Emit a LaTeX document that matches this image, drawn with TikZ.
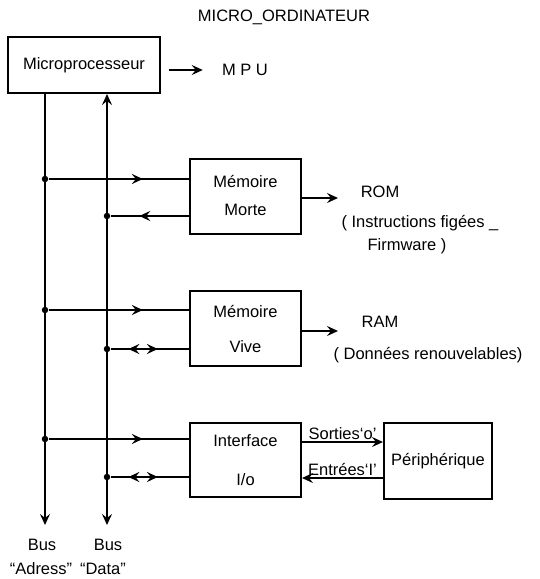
\documentclass[tikz,border=0pt]{standalone}
\usepackage{fontspec}
\setmainfont{Liberation Sans}
\usetikzlibrary{arrows.meta,decorations.markings}

\begin{document}
\begin{tikzpicture}[
  x=1pt,y=-1pt,
  line width=2pt,
  font=\fontsize{16.5}{20}\selectfont,
  >={Stealth[length=11pt,width=10pt,inset=4pt]},
  box/.style={rectangle,draw,align=center,inner sep=0pt,minimum width=111pt,minimum height=75pt},
  dot/.style={circle,fill,inner sep=0pt,minimum size=6.5pt},
  arr/.style={->},
  midarr/.style={postaction={decorate},decoration={markings,mark=at position #1 with {\arrow{>}}}},
  midboth/.style={postaction={decorate},decoration={markings,mark=at position 0.22 with {\arrowreversed{>}},mark=at position 0.6 with {\arrow{>}}}}
]
\useasboundingbox (0,0) rectangle (540,579);

\node (title) at (284,17) {MICRO\_ORDINATEUR};
\node[box,minimum width=152pt,minimum height=56pt] (mpu) at (84,65) {Microprocesseur};
\node (mpulbl) at (245,70) {M P U};

\node[box] (rom) at (245.5,196) {Mémoire\\[8pt]Morte};
\node[box] (ram) at (245.5,328.5) {Mémoire\\[15pt]Vive};
\node[box,minimum height=74pt] (io) at (245.5,460) {Interface\\[19pt]I/o};
\node[box,minimum width=108pt,minimum height=76pt] (peri) at (438,461) {Périphérique};

\node (romlbl) at (380,192) {ROM};
\node (romtxt1) at (420,223) {( Instructions figées \_};
\node (romtxt2) at (407,246) {Firmware )};
\node (ramlbl) at (380,322) {RAM};
\node (ramtxt) at (428,355) {( Données renouvelables)};

\coordinate (romout) at (338,198);
\coordinate (ramout) at (338,331);

% bus
\coordinate (abot) at (45,525);
\coordinate (dbot) at (107,525);
\node (busa) at (42,545) {Bus};
\node (busd) at (108,545) {Bus};
\node (adr) at (41,569) {“Adress”};
\node (dat) at (103,569) {“Data”};

\node[dot] (ja1) at (45,179) {};
\node[dot] (ja2) at (45,310) {};
\node[dot] (ja3) at (45,439) {};
\node[dot] (jd1) at (107,216) {};
\node[dot] (jd2) at (107,349) {};
\node[dot] (jd3) at (107,477) {};

\draw[arr,shorten <=8pt,shorten >=15pt] (mpu.east |- mpulbl) -- (mpulbl);
\draw[arr] (mpu.south -| abot) -- (abot);
\draw[<->] (mpu.south -| dbot) -- (dbot);

\draw[midarr=0.67] (ja1) -- (ja1 -| rom.west);
\draw[midarr=0.64] (jd1 -| rom.west) -- (jd1);
\draw[midarr=0.67] (ja2) -- (ja2 -| ram.west);
\draw[midboth] (jd2) -- (jd2 -| ram.west);
\draw[midarr=0.67] (ja3) -- (ja3 -| io.west);
\draw[midboth] (jd3) -- (jd3 -| io.west);

\draw[arr] (rom.east |- romout) -- (romout);
\draw[arr] (ram.east |- ramout) -- (ramout);

\draw[arr] (io.east |- 0,442) -- node[above=-2pt]{Sorties‘o’} (peri.west |- 0,442);
\draw[arr] (peri.west |- 0,478) -- node[above=-2pt]{Entrées‘I’} (io.east |- 0,478);
\end{tikzpicture}
\end{document}
